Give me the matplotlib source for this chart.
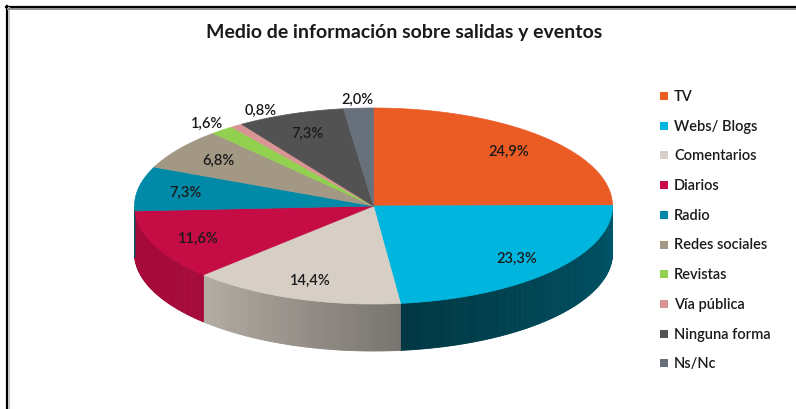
import numpy as np
import matplotlib
matplotlib.use("Agg")
import matplotlib.pyplot as plt
from matplotlib.patches import Polygon, Rectangle
from matplotlib.lines import Line2D
from matplotlib.colors import to_rgb

plt.rcParams['font.family'] = ['Lato', 'DejaVu Sans']

title = "Medio de información sobre salidas y eventos"
labels = ["TV", "Webs/ Blogs", "Comentarios", "Diarios", "Radio",
          "Redes sociales", "Revistas", "Vía pública", "Ninguna forma", "Ns/Nc"]
values = [24.9, 23.3, 14.4, 11.6, 7.3, 6.8, 1.6, 0.8, 7.3, 2.0]

colors = ["#EB5B24", "#00B5DE", "#D7CFC5", "#C50C45", "#008AA8",
          "#A29884", "#92D050", "#D99594", "#525252", "#68717B"]
# side shading (left end, right end) as factor of the top colour
side_shade = {"Webs/ Blogs": (0.30, 0.48), "Comentarios": (0.84, 0.56),
              "Diarios": (0.84, 0.84)}

W, H = 796, 410
fig = plt.figure(figsize=(W / 100, H / 100), dpi=100)
ax = fig.add_axes([0, 0, 1, 1])
ax.set_xlim(0, W)
ax.set_ylim(H, 0)
ax.axis("off")

# frame
ax.add_line(Line2D([6.5, 6.5], [7, H], color="black", lw=1.6))
ax.add_line(Line2D([6, W], [7.5, 7.5], color="black", lw=1.6))
ax.add_line(Line2D([8.8, 8.8], [9, H], color="#c8c8c8", lw=1.4))
ax.add_line(Line2D([8, W], [9.8, 9.8], color="#909090", lw=1.4))

ax.text(404, 38, title, ha="center", va="baseline", fontsize=14,
        fontweight="bold", color="#1a1a1a")

cx, cy, a, b, depth = 373.5, 207, 239, 98, 47


def pt(theta_deg, r=1.0):
    t = np.radians(theta_deg)
    return cx + a * r * np.cos(t), cy - b * r * np.sin(t)


total = sum(values)
bounds = [90.0]
for v in values:
    bounds.append(bounds[-1] - v / total * 360.0)

# sides (front half: angles between -180 and 0)
for i, lab in enumerate(labels):
    start, end = bounds[i], bounds[i + 1]  # start > end (clockwise)
    for shift in (0, -360, 360):
        lo = max(end + shift, -180.0)
        hi = min(start + shift, 0.0)
        if hi <= lo:
            continue
        fl, fr = side_shade.get(lab, (0.8, 0.6))
        base = np.array(to_rgb(colors[i]))
        steps = max(int((hi - lo) / 0.5), 1)
        angs = np.linspace(lo, hi, steps + 1)
        for k in range(steps):
            t0, t1 = angs[k], angs[k + 1]
            frac = (0.5 * (t0 + t1) - lo) / (hi - lo)
            f = fl + (fr - fl) * frac
            c = np.clip(base * f, 0, 1)
            x0, y0 = pt(t0)
            x1, y1 = pt(t1)
            ax.add_patch(Polygon([(x0, y0), (x1, y1), (x1, y1 + depth), (x0, y0 + depth)],
                                 closed=True, fc=c, ec=c, lw=0.6))

# top face
for i in range(len(values)):
    start, end = bounds[i], bounds[i + 1]
    angs = np.linspace(end, start, max(int((start - end) * 2), 2) + 1)
    xs, ys = pt(angs)
    verts = [(cx, cy)] + list(zip(xs, ys))
    ax.add_patch(Polygon(verts, closed=True, fc=colors[i], ec=colors[i], lw=0.5))

# data labels
outside = []
for i, v in enumerate(values):
    mid = 0.5 * (bounds[i] + bounds[i + 1])
    txt = f"{v:.1f}%".replace(".", ",")
    if v < 3:
        outside.append([mid, txt])
    else:
        x, y = pt(mid, 0.8)
        ax.text(x, y, txt, ha="center", va="center", fontsize=10.5,
                fontweight="semibold", color="#1a1a1a")

placed = []
for mid, txt in sorted(outside, key=lambda o: pt(o[0], 1.1)[0]):
    x, y = pt(mid, 1.1)
    if placed and x - placed[-1] < 53:
        x = placed[-1] + 53
        y -= 8
    placed.append(x)
    ax.text(x, y, txt, ha="center", va="center", fontsize=10.5,
            fontweight="semibold", color="#1a1a1a")

# legend
lx, ly0, dy = 660, 97, 29.7
for i, lab in enumerate(labels):
    y = ly0 + i * dy
    ax.add_patch(Rectangle((lx, y - 4), 8, 8, fc=colors[i], ec="none"))
    ax.text(lx + 14, y, lab, ha="left", va="center", fontsize=10.5,
            fontweight="semibold", color="#1a1a1a")

fig.savefig("out.png", dpi=100, facecolor="white")
